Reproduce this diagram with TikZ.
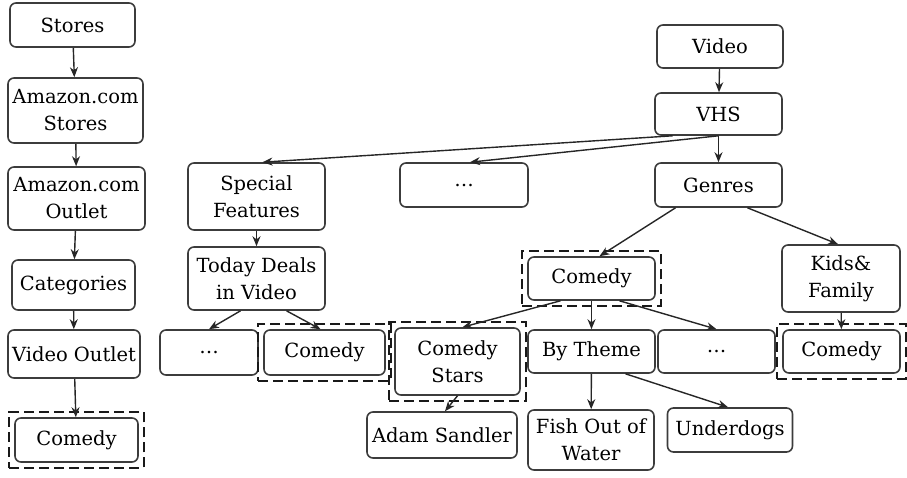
\documentclass[tikz,border=0pt]{standalone}
\usepackage{fontspec}
\setmainfont{DejaVu Serif}
\usetikzlibrary{arrows.meta,fit}
\definecolor{trait}{RGB}{60,60,60}
\definecolor{cadre}{RGB}{25,25,25}

\begin{document}
\begin{tikzpicture}[x=1pt,y=-1pt,
	box/.style={draw=trait,line width=1.6pt,rounded corners=6pt,align=center,
		inner sep=1pt,font=\fontsize{19.5}{27}\selectfont},
	selbox/.style={draw=cadre,line width=2pt,dash pattern=on 10pt off 5pt,inner sep=5pt},
	fl/.style={-{Stealth[length=10pt,width=8pt]},line width=1.4pt,black!85}]
	\useasboundingbox (0,0) rectangle (907,477);
	%% colonne de gauche
	\node[box,minimum width=125,minimum height=44] (stores) at (72.5,25) {Stores};
	\node[box,minimum width=135,minimum height=65] (amzstores) at (75.5,110.5) {Amazon.com\\Stores};
	\node[box,minimum width=137,minimum height=63] (amzoutlet) at (76.5,198.5) {Amazon.com\\Outlet};
	\node[box,minimum width=123,minimum height=50] (categ) at (73.5,285) {Categories};
	\node[box,minimum width=132,minimum height=48] (vidoutlet) at (74,354) {Video Outlet};
	\node[box,minimum width=123,minimum height=44] (comA) at (76.5,440) {Comedy};
	\node[selbox,fit=(comA)] (selA) {};
	\draw[fl] (stores) -- (amzstores);
	\draw[fl] (amzstores) -- (amzoutlet);
	\draw[fl] (amzoutlet) -- (categ);
	\draw[fl] (categ) -- (vidoutlet);
	\draw[fl] (vidoutlet) -- (comA);

	%% arbre Video
	\node[box,minimum width=126,minimum height=43] (video) at (720,46.5) {Video};
	\node[box,minimum width=127,minimum height=42] (vhs) at (718.5,114) {VHS};
	\node[box,minimum width=127,minimum height=44] (genres) at (718.5,185) {Genres};
	\node[box,minimum width=137,minimum height=67] (special) at (256.5,196.5) {Special\\Features};
	\node[box,minimum width=128,minimum height=44] (dotsA) at (464,185) {\dots};
	\node[box,minimum width=137,minimum height=63] (today) at (256.5,278.5) {Today Deals\\in Video};
	\node[box,minimum width=98,minimum height=45] (dotsB) at (209,352.5) {\dots};
	\node[box,minimum width=121,minimum height=45] (comB) at (324.5,352.5) {Comedy};
	\node[selbox,fit=(comB)] (selB) {};
	\node[box,minimum width=127,minimum height=43] (comC) at (591.5,278.5) {Comedy};
	\node[selbox,fit=(comC)] (selC) {};
	\node[box,minimum width=118,minimum height=67] (kids) at (841,278.5) {Kids\&\\Family};
	\node[box,minimum width=117,minimum height=43] (comD) at (841.5,351.5) {Comedy};
	\node[selbox,fit=(comD)] (selD) {};
	\node[box,minimum width=125,minimum height=67] (stars) at (457.5,361.5) {Comedy\\Stars};
	\node[selbox,fit=(stars)] (selE) {};
	\node[box,minimum width=127,minimum height=43] (bytheme) at (591.5,351.5) {By Theme};
	\node[box,minimum width=117,minimum height=43] (dotsC) at (716.5,351.5) {\dots};
	\node[box,minimum width=150,minimum height=46] (adam) at (442,435) {Adam Sandler};
	\node[box,minimum width=126,minimum height=60] (fish) at (591,440) {Fish Out of\\Water};
	\node[box,minimum width=125,minimum height=44] (underdogs) at (730,430) {Underdogs};

	%% fleches
	\draw[fl] (video) -- (vhs);
	\draw[fl] (vhs) -- (genres);
	\draw[fl] ([xshift=-46pt]vhs.south) -- ([xshift=6pt]special.north);
	\draw[fl] (vhs.south) -- ([xshift=6pt]dotsA.north);
	\draw[fl] (special) -- (today);
	\draw[fl] ([xshift=-16pt]today.south) -- (dotsB.north);
	\draw[fl] ([xshift=30pt]today.south) -- ([xshift=-4pt]comB.north);
	\draw[fl] ([xshift=-43pt]genres.south) -- ([xshift=8pt]comC.north);
	\draw[fl] ([xshift=29pt]genres.south) -- ([xshift=-3pt]kids.north);
	\draw[fl] (kids) -- (comD);
	\draw[fl] ([xshift=-31pt]comC.south) -- ([xshift=5pt]stars.north);
	\draw[fl] (comC) -- (bytheme);
	\draw[fl] ([xshift=28pt]comC.south) -- (dotsC.north);
	\draw[fl] (stars.south) -- ([xshift=3pt]adam.north);
	\draw[fl] (bytheme) -- (fish);
	\draw[fl] ([xshift=34pt]bytheme.south) -- ([xshift=-2pt]underdogs.north);
\end{tikzpicture}
\end{document}
